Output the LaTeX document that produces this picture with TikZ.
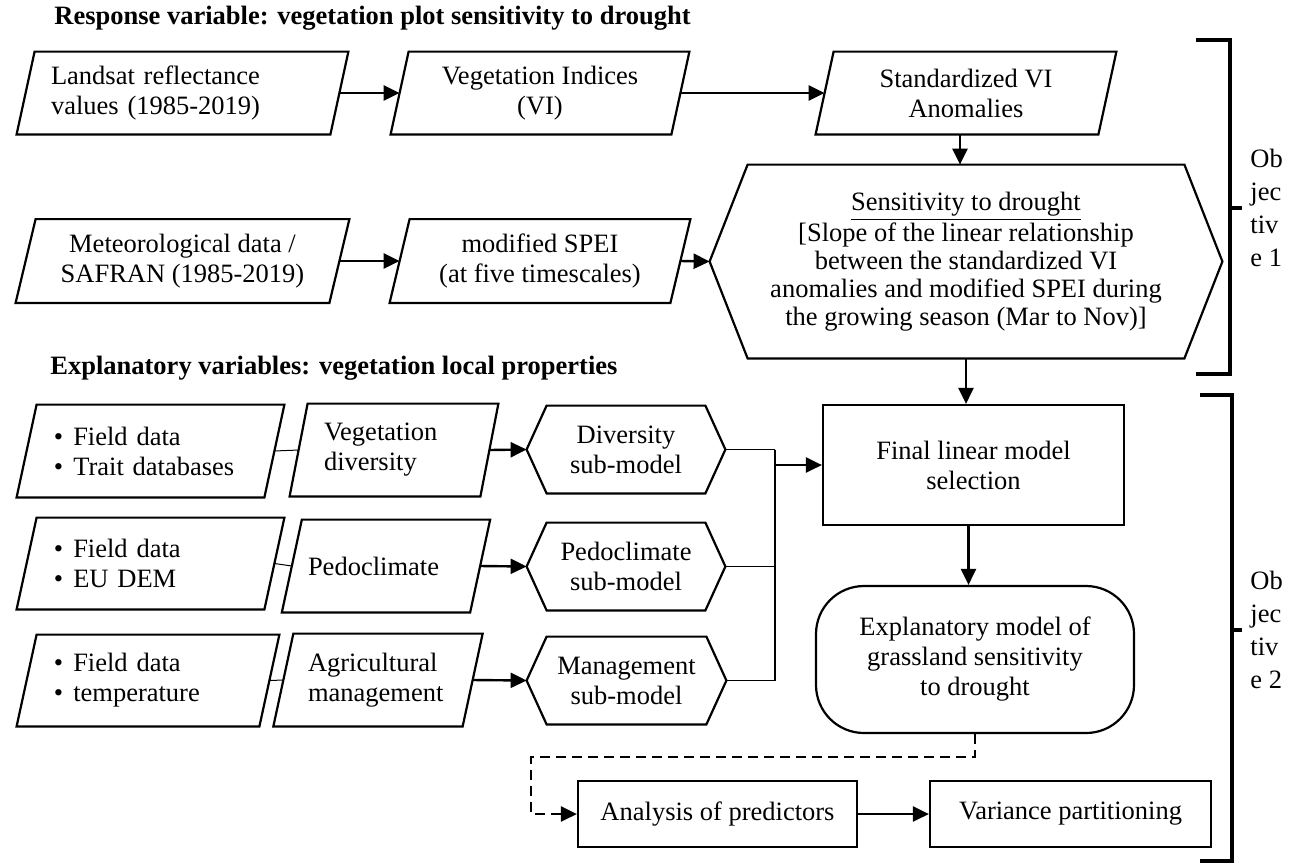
\documentclass[tikz,border=0pt]{standalone}
\usepackage{fontspec}
\setmainfont{Liberation Serif}
\usetikzlibrary{arrows.meta}
\tikzset{
  shp/.style={draw=black, line width=1.1pt, line join=miter},
  tx/.style={inner sep=0pt, font=\fontsize{13.25pt}{15pt}\selectfont, align=center},
  arr/.style={line width=1.2pt, -{Triangle[length=8pt,width=7.5pt]}},
  thinline/.style={line width=0.5pt},
  medline/.style={line width=0.9pt},
  brk/.style={line width=2pt},
  ttl/.style={inner sep=0pt, anchor=west, font=\fontsize{13.25pt}{15pt}\selectfont\bfseries},
}
\newcommand\parashape[2]{\draw[shp] ([xshift=-#2]#1.south west) -- ([xshift=#2]#1.north west) -- ([xshift=#2]#1.north east) -- ([xshift=-#2]#1.south east) -- cycle;}
\newcommand\hexshape[2]{\draw[shp] (#1.north west) -- (#1.north east) -- ([xshift=#2]#1.east) -- (#1.south east) -- (#1.south west) -- ([xshift=-#2]#1.west) -- cycle;}
\begin{document}
\begin{tikzpicture}[x=0.5pt,y=-0.5pt]
\useasboundingbox (0,0) rectangle (1300,863);
% titles
\node[ttl] (t1) at (54,18) {Response variable: vegetation plot sensitivity to drought};
\node[ttl] (t2) at (50,368) {Explanatory variables: vegetation local properties};
% row 1
\node[tx, minimum width=156.5pt, minimum height=41pt, text width=131.5pt, align=left] (landsat) at (182.5,93) {Landsat reflectance\\values (1985-2019)};
\node[tx, minimum width=140pt, minimum height=41pt] (vi) at (540,93) {Vegetation Indices\\(VI)};
\node[tx, minimum width=141pt, minimum height=41pt] (std) at (966,93) {Standardized VI\\Anomalies};
\parashape{landsat}{4.5pt}
\parashape{vi}{4.5pt}
\parashape{std}{4.5pt}
% row 2
\node[tx, minimum width=156.5pt, minimum height=41.5pt] (met) at (182.5,261) {Meteorological data /\\SAFRAN (1985-2019)};
\node[tx, minimum width=140pt, minimum height=41.5pt] (spei) at (540,261) {modified SPEI\\(at five timescales)};
\parashape{met}{5pt}
\parashape{spei}{5pt}
\node[tx, minimum width=218pt, minimum height=96.5pt, font=\fontsize{13.25pt}{14pt}\selectfont] (sens) at (966,261.5) {\underline{Sensitivity to drought}\\ {[}Slope of the linear relationship\\between the standardized VI\\anomalies and modified SPEI during\\the growing season (Mar to Nov){]}};
\hexshape{sens}{19pt}
\coordinate (sensL) at ([xshift=-19pt]sens.west);
% arrows top part
\draw[arr] (landsat.east) -- (vi.west);
\draw[arr] (vi.east) -- (std.west);
\draw[arr] ([xshift=-3pt]std.south) -- ([xshift=-3pt]std.south |- sens.north);
\draw[arr] (met.east) -- (spei.west);
\draw[arr] (spei.east) -- (sensL);
% explanatory rows
\node[tx, minimum width=123.5pt, minimum height=46pt, text width=96.5pt, align=left] (a1) at (150.5,451) {\textbullet\hspace{5pt}Field data\\\textbullet\hspace{5pt}Trait databases};
\node[tx, minimum width=95pt, minimum height=46pt, text width=70pt, align=left] (b1) at (394,450) {Vegetation\\diversity};
\node[tx, minimum width=79pt, minimum height=43.5pt] (c1) at (626,449.5) {Diversity\\sub-model};
\node[tx, minimum width=123.5pt, minimum height=45.5pt, text width=96.5pt, align=left] (a2) at (150.5,563.5) {\textbullet\hspace{5pt}Field data\\\textbullet\hspace{5pt}EU DEM};
\node[tx, minimum width=93.75pt, minimum height=46pt, text width=78pt, align=left] (b2) at (386,566) {Pedoclimate};
\node[tx, minimum width=79pt, minimum height=43.5pt] (c2) at (626,566.5) {Pedoclimate\\sub-model};
\node[tx, minimum width=121pt, minimum height=45.5pt, text width=94pt, align=left] (a3) at (148,680.5) {\textbullet\hspace{5pt}Field data\\\textbullet\hspace{5pt}temperature};
\node[tx, minimum width=94.25pt, minimum height=46pt, text width=70pt, align=left] (b3) at (378,680) {Agricultural\\management};
\node[tx, minimum width=79.5pt, minimum height=43.5pt] (c3) at (626.5,680.5) {Management\\sub-model};
\parashape{a1}{5pt}
\parashape{b1}{4.5pt}
\parashape{a2}{5pt}
\parashape{b2}{5pt}
\parashape{a3}{5pt}
\parashape{b3}{5pt}
\hexshape{c1}{10pt}
\hexshape{c2}{10pt}
\hexshape{c3}{10pt}
\coordinate (c1L) at ([xshift=-10pt]c1.west);
\coordinate (c2L) at ([xshift=-10pt]c2.west);
\coordinate (c3L) at ([xshift=-10pt]c3.west);
\coordinate (c1R) at ([xshift=10pt]c1.east);
\coordinate (c2R) at ([xshift=10pt]c2.east);
\coordinate (c3R) at ([xshift=10pt]c3.east);
\draw[thinline] (a1.east) -- (b1.west);
\draw[thinline] (a2.east) -- (b2.west);
\draw[thinline] (a3.east) -- (b3.west);
\draw[arr] (b1.east) -- (c1L);
\draw[arr] (b2.east) -- (c2L);
\draw[arr] (b3.east) -- (c3L);
% right column
\node[tx, shp, minimum width=150.5pt, minimum height=60pt] (final) at (973.5,465) {Final linear model\\selection};
\node[tx, shp, rounded corners=24pt, minimum width=159pt, minimum height=73.5pt] (expl) at (975,659.5) {Explanatory model of\\grassland sensitivity\\to drought};
\node[tx, shp, minimum width=139.5pt, minimum height=33pt] (anal) at (717.5,814) {Analysis of predictors};
\node[tx, shp, minimum width=140.5pt, minimum height=33pt] (var) at (1070.5,814) {Variance partitioning};
% junction
\coordinate (jt) at (775,449.5);
\coordinate (jb) at (775,680.5);
\coordinate (jm) at (775,465);
\draw[thinline] (c1R) -- (jt);
\draw[thinline] (c2R) -- (c2R -| jt);
\draw[medline] (jt) -- (jb) -- (c3R);
\draw[arr] (jm) -- (final.west);
\draw[arr] (sens.south) -- (sens.south |- final.north);
\draw[arr] ([xshift=-2.5pt]final.south) -- ([xshift=-2.5pt]final.south |- expl.north);
\coordinate (dc) at (531,757);
\draw[arr, dash pattern=on 5pt off 3pt] (expl.south) |- (dc) |- (anal.west);
\draw[arr] (anal.east) -- (var.west);
% brackets
\draw[brk] (1196,40) -- (1230,40) -- (1230,374) -- (1196,374);
\draw[brk] (1230,208) -- (1242,208);
\draw[brk] (1200,395) -- (1232,395) -- (1232,861) -- (1200,861);
\draw[brk] (1232,630) -- (1242,630);
\node[tx, anchor=west, align=left, font=\fontsize{13.25pt}{16.5pt}\selectfont] (obj1) at (1250,208) {Ob\\jec\\tiv\\e 1};
\node[tx, anchor=west, align=left, font=\fontsize{13.25pt}{16.5pt}\selectfont] (obj2) at (1250,630) {Ob\\jec\\tiv\\e 2};
\end{tikzpicture}
\end{document}
